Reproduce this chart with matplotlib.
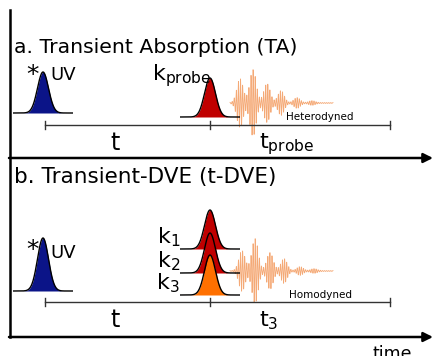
import matplotlib
matplotlib.use("Agg")
import matplotlib.pyplot as plt
import numpy as np

# canvas is laid out in pixel units (y grows downward)
W, H = 433, 356

# pulse positions
pump_x = 43
probe_x = 210
end_x = 390

# panel a: UV pump and probe pulses (baseline, peak)
ta_pulses = [(pump_x, 113, 72, "#0b1488"), (probe_x, 117, 78, "#c00000")]
ta_timeline = 125

# panel b: UV pump and three stacked pulses
dve_pump = (pump_x, 291, 238, "#0b1488")
dve_bases = [249, 273, 295]
dve_peaks = [210, 233, 255]
dve_colors = ["#c00000", "#c00000", "#ff7000"]
dve_labels = ["k$_1$", "k$_2$", "k$_3$"]
dve_timeline = 302

# signal beat packets (position, half-height) after the probe
het_centre = 103
het_pos = [240, 253, 267, 281, 297, 312]
het_amp = [24, 33, 19, 12, 5, 2]
hom_centre = 271
hom_pos = [242, 255, 270, 284, 300, 314]
hom_amp = [20, 32, 18, 12, 4, 2]
sig_start, sig_stop = 230, 333

fig = plt.figure(figsize=(W / 100, H / 100), dpi=100)
ax = fig.add_axes([0, 0, 1, 1])
ax.set_xlim(0, W)
ax.set_ylim(H, 0)
ax.axis("off")


def pulse(xc, base, peak, color, sigma=5.5, half=30):
    x = np.linspace(xc - half, xc + half, 300)
    y = base - (base - peak) * np.exp(-0.5 * ((x - xc) / sigma) ** 2)
    ax.fill_between(x, y, base, color=color, lw=0)
    ax.plot(x, y, color="black", lw=1.0, solid_capstyle="butt")


def signal(centre, pos, amp):
    x = np.linspace(sig_start, sig_stop, 3000)
    env = np.full_like(x, 0.4)
    for p, a in zip(pos, amp):
        env += a * np.exp(-0.5 * ((x - p) / 3.2) ** 2)
    y = centre - env * np.cos(2 * np.pi * (x - sig_start) / 2.1)
    ax.plot(x, y, color="#f39a5e", lw=0.6, alpha=0.85)


def timeline(y):
    ax.plot([pump_x + 2, end_x], [y, y], color="#333333", lw=1.0)
    for xt in [pump_x + 2, probe_x, end_x]:
        ax.plot([xt, xt], [y - 4, y + 4], color="#333333", lw=1.0)


# axes: vertical line and two time arrows
ax.plot([10, 10], [10, 337], color="black", lw=1.8)
for ya in [158, 337]:
    ax.annotate("", xy=(W, ya), xytext=(9, ya),
                arrowprops=dict(arrowstyle="-|>", color="black", lw=1.8,
                                mutation_scale=14, shrinkA=0, shrinkB=0))
ax.text(392, 345, "time", fontsize=12.5, ha="center", va="top")

# panel a
ax.text(14, 53, "a. Transient Absorption (TA)", fontsize=14.7, va="baseline")
signal(het_centre, het_pos, het_amp)
for xc, base, peak, c in ta_pulses:
    pulse(xc, base, peak, c)
ax.text(39, 82, "*", fontsize=18, ha="right", va="baseline")
ax.text(50, 80, "UV", fontsize=13, va="baseline")
ax.text(152, 80, r"k$_\mathregular{probe}$", fontsize=16, va="baseline")
timeline(ta_timeline)
ax.text(320, 120, "Heterodyned", fontsize=7.5, ha="center", va="baseline")
ax.text(115, 150, "t", fontsize=17, ha="center", va="baseline")
ax.text(259, 148, r"t$_\mathregular{probe}$", fontsize=16, va="baseline")

# panel b
ax.text(14, 183, "b. Transient-DVE (t-DVE)", fontsize=15.5, va="baseline")
signal(hom_centre, hom_pos, hom_amp)
pulse(*dve_pump)
for base, peak, c in zip(dve_bases, dve_peaks, dve_colors):
    pulse(probe_x, base, peak, c)
for base, lab in zip(dve_bases, dve_labels):
    ax.text(180, base - 6, lab, fontsize=16, ha="right", va="baseline")
ax.text(39, 257, "*", fontsize=18, ha="right", va="baseline")
ax.text(50, 258, "UV", fontsize=13, va="baseline")
timeline(dve_timeline)
ax.text(320, 298, "Homodyned", fontsize=7.5, ha="center", va="baseline")
ax.text(115, 327, "t", fontsize=17, ha="center", va="baseline")
ax.text(259, 326, r"t$_\mathregular{3}$", fontsize=16, va="baseline")

fig.savefig("out.png", dpi=100)
